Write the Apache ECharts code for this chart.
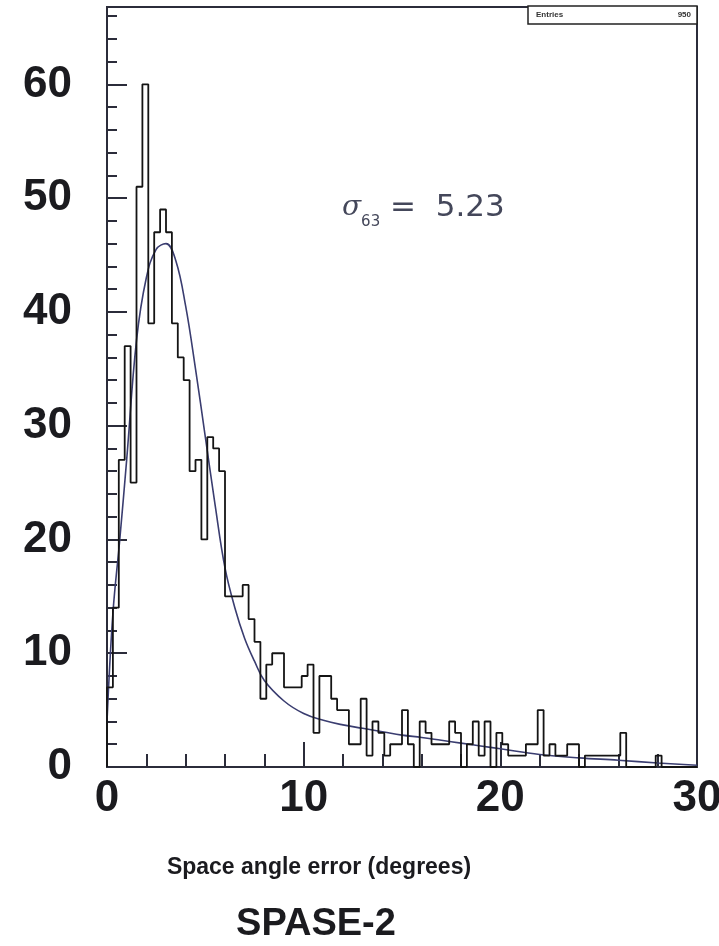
<!DOCTYPE html>
<html><head><meta charset="utf-8">
<script src="https://cdn.jsdelivr.net/npm/echarts@6/dist/echarts.min.js"></script>
<style>html,body{margin:0;padding:0;background:#fff}#c{width:719px;height:946px}</style>
</head><body><div id="c"></div>
<script>
// ---- data ----
const binLow = 0;
const binWidth = 0.3;
const binCounts = [
  7, 14, 27, 37, 25, 51, 60, 39, 47, 49,
  47, 39, 36, 34, 26, 27, 20, 29, 28, 26,
  15, 15, 15, 16, 13, 11, 6, 9, 10, 10,
  7, 7, 7, 8, 9, 3, 8, 8, 6, 5,
  5, 2, 2, 6, 1, 4, 3, 1, 2, 2,
  5, 2, 0, 4, 3, 2, 2, 2, 4, 3,
  0, 2, 4, 1, 4, 0, 3, 2, 1, 1,
  1, 2, 2, 5, 1, 2, 1, 1, 2, 2,
  0, 1, 1, 1, 1, 1, 1, 3, 0, 0,
  0, 0, 0, 1, 0, 0, 0, 0, 0, 0
];
const fitX = [0, 0.3, 0.65, 1.0, 1.5, 2.0, 2.5, 3.0, 3.5, 4.0, 4.5, 5.0, 5.5, 6.0, 6.5, 7.0, 7.5, 8.0, 9.0, 10, 11, 12, 13, 14, 15, 16, 17, 18, 19, 20, 22, 24, 26, 28, 30];
const fitY = [4, 13.5, 20, 27, 37.5, 43, 45.5, 46, 44.5, 40.5, 35, 29, 23, 17.5, 14, 11.3, 9.3, 7.6, 5.8, 4.7, 4.1, 3.7, 3.4, 3.1, 2.8, 2.6, 2.35, 2.1, 1.85, 1.6, 1.1, 0.8, 0.6, 0.35, 0.15];
const xRange = [0, 30];
const yRange = [0, 66.8];
const statsLabel = 'Entries';
const statsValue = '950';
const sigmaSymbol = 'σ';
const sigmaSub = '63';
const sigmaValue = '5.23';
const xTitle = 'Space angle error (degrees)';
const chartTitle = 'SPASE-2';

// ---- build series data ----
const histData = [[binLow, 0]];
for (let i = 0; i < binCounts.length; i++) {
  histData.push([+(binLow + (i + 1) * binWidth).toFixed(4), binCounts[i]]);
}
const fitData = fitX.map((x, i) => [x, fitY[i]]);

const frameColor = '#2b2c3a';
const labelFont = { fontSize: 44, fontWeight: 'bold', fontFamily: '"Liberation Sans", Arial, Helvetica, sans-serif', color: '#1b1b1f' };
const gridPos = { left: 107, right: 22, top: 7, bottom: 179, outerBoundsMode: 'none', containLabel: false };

const chart = echarts.init(document.getElementById('c'), null, { renderer: 'canvas' });
chart.setOption({
  animation: false,
  backgroundColor: '#ffffff',
  grid: [
    Object.assign({ show: true, borderColor: frameColor, borderWidth: 2, backgroundColor: 'transparent' }, gridPos),
    Object.assign({ show: false }, gridPos)
  ],
  xAxis: [
    { gridIndex: 0, type: 'value', min: xRange[0], max: xRange[1], interval: 10,
      axisLine: { show: true, lineStyle: { color: frameColor, width: 2 } },
      axisTick: { show: true, inside: true, length: 25, lineStyle: { color: frameColor, width: 2 } },
      axisLabel: Object.assign({ margin: 10 }, labelFont),
      splitLine: { show: false } },
    { gridIndex: 1, type: 'value', min: xRange[0], max: xRange[1], interval: 2,
      axisLine: { show: false },
      axisTick: { show: true, inside: true, length: 13, lineStyle: { color: frameColor, width: 2 } },
      axisLabel: { show: false }, splitLine: { show: false } }
  ],
  yAxis: [
    { gridIndex: 0, type: 'value', min: yRange[0], max: yRange[1], interval: 10,
      axisLine: { show: true, lineStyle: { color: frameColor, width: 2 } },
      axisTick: { show: true, inside: true, length: 20, lineStyle: { color: frameColor, width: 2 } },
      axisLabel: Object.assign({ margin: 35, showMaxLabel: false }, labelFont),
      splitLine: { show: false } },
    { gridIndex: 1, type: 'value', min: yRange[0], max: yRange[1], interval: 2,
      axisLine: { show: false },
      axisTick: { show: true, inside: true, length: 10, lineStyle: { color: frameColor, width: 2 } },
      axisLabel: { show: false }, splitLine: { show: false } }
  ],
  series: [
    { type: 'line', xAxisIndex: 0, yAxisIndex: 0, data: fitData, smooth: 0.4, symbol: 'none',
      lineStyle: { color: '#3a3d70', width: 1.6 }, z: 3 },
    { type: 'line', xAxisIndex: 0, yAxisIndex: 0, data: histData, step: 'start', symbol: 'none',
      lineStyle: { color: '#141414', width: 1.8 }, z: 4 }
  ],
  graphic: [
    { type: 'rect', shape: { x: 528, y: 6, width: 169, height: 18 },
      style: { fill: '#ffffff', stroke: '#222', lineWidth: 1.5 }, z: 10 },
    { type: 'text', x: 536, y: 15, z: 11,
      style: { text: statsLabel, fontSize: 8, fontWeight: 'bold', fontFamily: 'Liberation Sans, Arial', fill: '#333', verticalAlign: 'middle' } },
    { type: 'text', x: 691, y: 15, z: 11,
      style: { text: statsValue, fontSize: 8, fontWeight: 'bold', fontFamily: 'Liberation Sans, Arial', fill: '#333', align: 'right', verticalAlign: 'middle' } },
    { type: 'text', x: 342, y: 186, z: 11,
      style: {
        text: '{s|' + sigmaSymbol + '}{b|' + sigmaSub + '}{t| =  ' + sigmaValue + '}',
        rich: {
          s: { fontSize: 28, fontStyle: 'italic', fontFamily: '"DejaVu Serif", serif', fill: '#44475a', lineHeight: 44, verticalAlign: 'middle' },
          b: { fontSize: 15, fontFamily: '"DejaVu Sans", sans-serif', fill: '#44475a', lineHeight: 16, verticalAlign: 'bottom' },
          t: { fontSize: 31, fontFamily: '"DejaVu Sans", sans-serif', fill: '#44475a', lineHeight: 44, verticalAlign: 'middle' }
        }
      } },
    { type: 'text', x: 319, y: 868, z: 11,
      style: { text: xTitle, fontSize: 23, fontWeight: 'bold', fontFamily: '"Liberation Sans", Arial, sans-serif', fill: '#1b1b1f', align: 'center', verticalAlign: 'middle' } },
    { type: 'text', x: 316, y: 925, z: 11,
      style: { text: chartTitle, fontSize: 38, fontWeight: 'bold', fontFamily: '"Liberation Sans", Arial, sans-serif', fill: '#1b1b1f', align: 'center', verticalAlign: 'middle' } }
  ]
});
</script>
</body></html>
